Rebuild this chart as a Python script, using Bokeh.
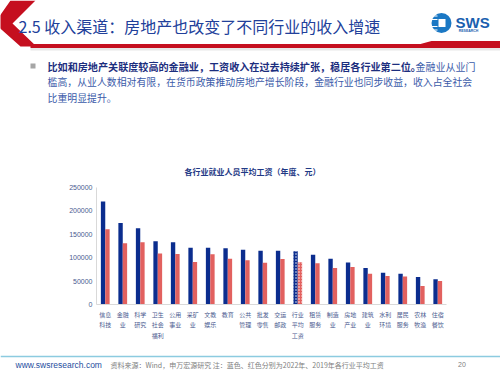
import numpy as np
from bokeh.plotting import figure
from bokeh.models import (Range1d, FixedTicker, NumeralTickFormatter, ColumnDataSource, LinearAxis)
from bokeh.transform import dodge
from bokeh.core.properties import value
from bokeh.embed import file_html
from bokeh.resources import INLINE

# ---------------- data ----------------
categories = ["信息科技", "金融业", "科学研究", "卫生社会福利", "公用事业", "采矿业", "文教娱乐",
              "教育", "公共管理", "批发零售", "交运邮政", "行业平均工资", "租赁服务", "制造业",
              "房地产业", "建筑业", "水利环境", "居民服务", "农林牧渔", "住宿餐饮"]
tick_labels = ["信息\n科技", "金融\n业", "科学\n研究", "卫生\n社会\n福利", "公用\n事业", "采矿\n业",
               "文教\n娱乐", "教育", "公共\n管理", "批发\n零售", "交运\n邮政", "行业\n平均\n工资",
               "租赁\n服务", "制造\n业", "房地\n产业", "建筑\n业", "水利\n环境", "居民\n服务",
               "农林\n牧渔", "住宿\n餐饮"]
wage_2022 = [220000, 174000, 163000, 135000, 133000, 121500, 121000, 120000, 117000, 115000,
             115000, 114000, 106500, 97500, 90000, 78000, 68000, 65500, 59000, 54000]
wage_2019 = [161000, 131000, 133000, 109000, 108000, 91000, 107500, 97500, 94500, 89000,
             97000, 90500, 88000, 78000, 80000, 65500, 61000, 60000, 39500, 50000]
y_ticks = [0, 50000, 100000, 150000, 200000, 250000]
average_name = "行业平均工资"

title_text = "2.5 收入渠道：房地产也改变了不同行业的收入增速"
bullet_bold = "比如和房地产关联度较高的金融业，工资收入在过去持续扩张，稳居各行业第二位。"
bullet_l1_rest = "金融业从业门"
bullet_l2 = "槛高，从业人数相对有限，在货币政策推动房地产增长阶段，金融行业也同步收益，收入占全社会"
bullet_l3 = "比重明显提升。"
chart_title = "各行业就业人员平均工资（年度、元）"
footer_url = "www.swsresearch.com"
footer_src = "资料来源：Wind，申万宏源研究 注：蓝色、红色分别为2022年、2019年各行业平均工资"
page_no = "20"

CJK = "Noto Sans CJK SC"
LAT = "Liberation Sans"
BLUE = "#0B2D8E"
RED = "#E2615F"
RED_BAND = "#C50F1F"
AXIS_TXT = "#4B5B8F"

# ---------------- page geometry (pixels) ----------------
W, H = 500, 372
CH_LEFT, CH_RIGHT, CH_TOP, CH_BOTTOM = 96, 446, 187, 304

p = figure(width=W, height=H, x_range=Range1d(0, W), y_range=Range1d(H, 0),
           x_axis_location=None, y_axis_location=None, min_border=0,
           toolbar_location=None, output_backend="svg")
p.outline_line_color = None
p.grid.grid_line_color = None
p.background_fill_color = "white"
p.border_fill_color = "white"

# chart scales placed inside the page
n = len(categories)
unit = (CH_RIGHT - CH_LEFT) / n
ix0 = -0.5 - CH_LEFT / unit
vpp = y_ticks[-1] / (CH_BOTTOM - CH_TOP)
p.extra_x_ranges = {"idx": Range1d(ix0, ix0 + W / unit)}
p.extra_y_ranges = {"val": Range1d(-(H - CH_BOTTOM) * vpp, y_ticks[-1] + CH_TOP * vpp)}

src = ColumnDataSource(dict(
    i=list(range(n)), cat=categories, w22=wage_2022, w19=wage_2019,
    pat=["dot" if c == average_name else " " for c in categories],
))

p.vbar(x=dodge("i", -0.125), top="w22", width=0.25, source=src,
       x_range_name="idx", y_range_name="val",
       fill_color=BLUE, line_color=None, hatch_pattern="pat", hatch_color="white",
       hatch_scale=3, hatch_weight=1.2)
p.vbar(x=dodge("i", 0.125), top="w19", width=0.25, source=src,
       x_range_name="idx", y_range_name="val",
       fill_color=RED, line_color=None, hatch_pattern="pat", hatch_color="white",
       hatch_scale=3, hatch_weight=1.2)

yaxis = LinearAxis(x_range_name="idx", y_range_name="val", fixed_location=-0.5,
                   bounds=(y_ticks[0], y_ticks[-1]),
                   ticker=FixedTicker(ticks=y_ticks), formatter=NumeralTickFormatter(format="0"))
yaxis.major_label_text_font = LAT
yaxis.major_label_text_font_size = "7px"
yaxis.major_label_text_color = AXIS_TXT
yaxis.major_label_standoff = 4
yaxis.major_tick_out = 0
yaxis.major_tick_in = 0
yaxis.minor_tick_out = 0
yaxis.minor_tick_in = 0
yaxis.axis_line_color = "#D9D9D9"
p.add_layout(yaxis, "left")

xaxis = LinearAxis(x_range_name="idx", y_range_name="val", fixed_location=0,
                   bounds=(-0.5, n - 0.5),
                   ticker=FixedTicker(ticks=list(range(n))),
                   major_label_overrides={i: t for i, t in enumerate(tick_labels)})
xaxis.major_label_text_font = CJK
xaxis.major_label_text_font_size = "6px"
xaxis.major_label_text_color = AXIS_TXT
xaxis.major_label_text_line_height = 1.18
xaxis.major_label_standoff = 5
xaxis.major_tick_out = 0
xaxis.major_tick_in = 0
xaxis.minor_tick_out = 0
xaxis.minor_tick_in = 0
xaxis.axis_line_color = "#D9D9D9"
p.add_layout(xaxis, "below")


# ---------------- slide decorations ----------------
def txt(x, y, s, size, color, font=CJK, style="normal", align="left"):
    p.text(x=[x], y=[y], text=[s], text_font=value(font), text_font_size=size,
           text_color=color, text_font_style=style, text_align=align, text_baseline="middle")


# header chevron and band
p.patch([10, 35, 12, 36, 20, -6], [0, 0, 23, 46, 46, 23], fill_color=RED_BAND, line_color=None)
p.patch([30, 420, 431, 500, 500, 30], [43.5, 43.5, 40.5, 40.5, 47.5, 47.5], fill_color=RED_BAND, line_color=None)
p.patch([30, 500, 500, 30], [47.5, 47.5, 50, 50], fill_color="#E8E8E8", line_color=None)
txt(18, 25, title_text, "16px", "#21409A")

# logo
p.circle(x=[441], y=[22.5], radius=10, fill_color="#1B78C4", line_color=None)
p.rect(x=[441.5], y=[22.5], width=7, height=8, fill_color="white", line_color=None)
for yy in [15.5, 19, 26, 29.5]:
    p.line([430, 437], [yy, yy], line_color="white", line_width=1)
txt(455, 22, "SWS", "15px", "#1A5FAF", font=LAT, style="bold")
txt(468, 30.5, "RESEARCH", "3.5px", "#1A5FAF", font=LAT, style="bold", align="center")

# bullet
p.rect(x=[32.5], y=[65.5], width=5, height=5, fill_color="#A6A6A6", line_color=None)
txt(47, 66, bullet_bold, "10.1px", "#1C2E7E", style="bold")
txt(415, 66, bullet_l1_rest, "10px", "#3B5BA9")
txt(47, 81.5, bullet_l2, "9.9px", "#3B5BA9")
txt(47, 97, bullet_l3, "9.9px", "#3B5BA9")

# chart title
txt(252, 171, chart_title, "8px", "#1F3A86", style="bold", align="center")

# footer
p.line([0, 500], [356, 356], line_color="#8CCBE0", line_width=1.5)
txt(15, 364, footer_url, "8.5px", "#1F4E9E", font=LAT)
txt(110, 364, footer_src, "7px", "#808080")
txt(461.5, 364, page_no, "7px", "#808080", font=LAT, align="center")

open("out.html", "w").write(file_html(p, INLINE))
